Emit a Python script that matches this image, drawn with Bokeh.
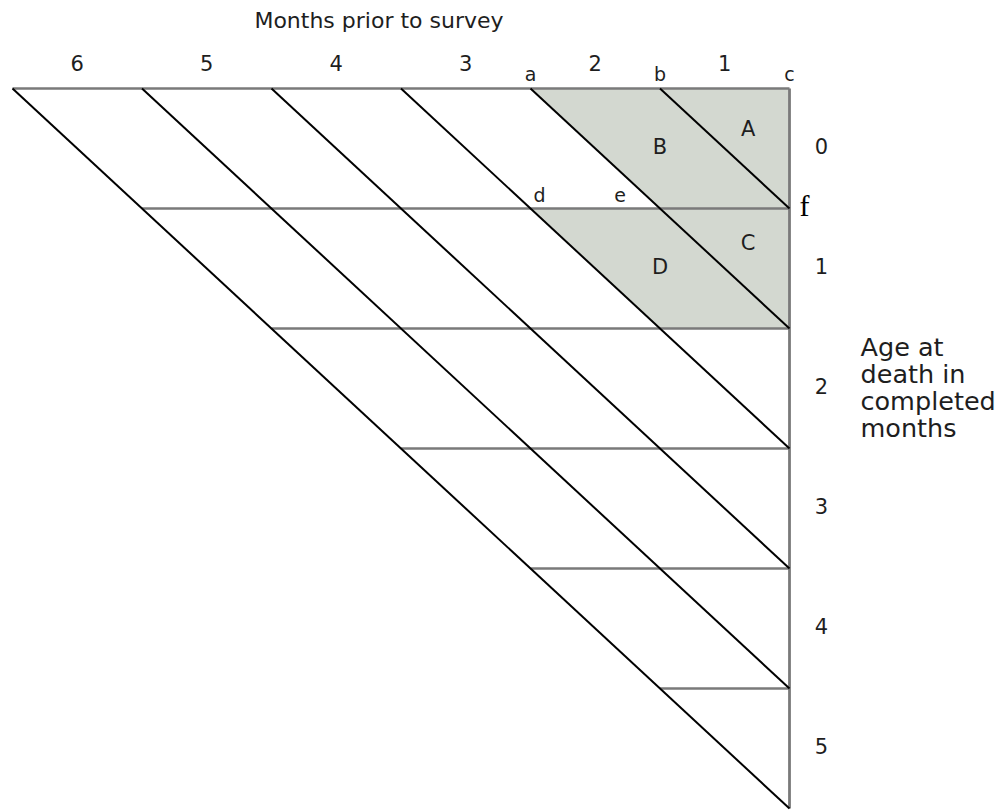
from bokeh.plotting import figure
from bokeh.models import Range1d
from bokeh.core.properties import value
from bokeh.embed import file_html
from bokeh.resources import INLINE

# ---- data ----
months = [6, 5, 4, 3, 2, 1]            # months prior to survey (column labels)
ages = [0, 1, 2, 3, 4, 5]              # age at death in completed months (row labels)
n = 6
corner_top_labels = ["a", "b", "c"]
corner_top_months = [2, 1, 0]
corner_mid_labels = ["d", "e"]
corner_mid_months = [2, 1]
corner_mid_age = 1
shade_months = [2, 0, 0, 1, 2, 1]      # shaded region outline (months prior)
shade_ages = [0, 0, 2, 2, 1, 1]        # shaded region outline (age)
region_labels = ["A", "B", "C", "D"]
region_months = [0.32, 1.0, 0.32, 1.0]
region_ages = [0.34, 0.49, 1.29, 1.49]
title = "Months prior to survey"
age_title = "Age at\ndeath in\ncompleted\nmonths"

FONT = value("DejaVu Sans")

W, H = 998, 810
px_x, px_y = 129.5, 120.0
x0 = -n - 12 / px_x
y0 = -88 / px_y

p = figure(width=W, height=H, output_backend="svg", toolbar_location=None,
           x_range=Range1d(x0, x0 + W / px_x),
           y_range=Range1d(y0 + H / px_y, y0),
           min_border=0, outline_line_color=None, background_fill_color="white")
p.xaxis.visible = False
p.yaxis.visible = False
p.grid.visible = False

# shaded region
p.patch([-m for m in shade_months], shade_ages, fill_color="#d3d8d0", line_color=None)

# horizontal lines (top edge and each age boundary), vertical right edge
hx0 = [-(n - k) for k in range(n)]
hx1 = [0] * n
hy = [k for k in range(n)]
GREY = "#7a7a7a"
p.segment(x0=hx0, y0=hy, x1=hx1, y1=hy, line_color=GREY, line_width=2.6)
p.segment(x0=[0], y0=[0], x1=[0], y1=[n], line_color=GREY, line_width=2.8)

# diagonals (cohort lines)
dx0 = [-(j) for j in range(1, n + 1)]
dy1 = [j for j in range(1, n + 1)]
p.segment(x0=dx0, y0=[0] * n, x1=[0] * n, y1=dy1, line_color="black", line_width=2)

TXT = "#1e1e1e"
# title
p.text(x=[-3.17], y=[-0.5], text=[title], y_offset=-8, text_font=FONT,
       text_font_size="22px", text_align="center", text_baseline="alphabetic",
       text_color=TXT)

# month labels
p.text(x=[-(m - 0.5) for m in months], y=[-0.142] * n, text=[str(m) for m in months],
       y_offset=-8, text_font=FONT, text_font_size="21px", text_align="center",
       text_baseline="alphabetic", text_color=TXT)

# a b c
p.text(x=[-m for m in corner_top_months], y=[-0.058] * 3, text=corner_top_labels,
       y_offset=-8, text_font=FONT, text_font_size="19px", text_align="center",
       text_baseline="alphabetic", text_color=TXT)
# d e
p.text(x=[-corner_mid_months[0]], y=[corner_mid_age], text=[corner_mid_labels[0]],
       x_offset=9, y_offset=-14, text_font=FONT, text_font_size="19px",
       text_align="center", text_baseline="alphabetic", text_color=TXT)
p.text(x=[-corner_mid_months[1]], y=[corner_mid_age], text=[corner_mid_labels[1]],
       x_offset=-40, y_offset=-14, text_font=FONT, text_font_size="19px",
       text_align="center", text_baseline="alphabetic", text_color=TXT)
# f
p.text(x=[0], y=[1], text=["f"], x_offset=10, y_offset=-3,
       text_font=value("Liberation Serif"), text_font_size="30px",
       text_align="left", text_baseline="middle", text_color="black")

# region labels
p.text(x=[-m for m in region_months], y=region_ages, text=region_labels,
       text_font=FONT, text_font_size="21px", text_align="center",
       text_baseline="middle", text_color=TXT)

# age labels
p.text(x=[0] * n, y=[a + 0.5 for a in ages], text=[str(a) for a in ages], x_offset=32,
       y_offset=-3, text_font=FONT, text_font_size="21px", text_align="center",
       text_baseline="middle", text_color=TXT)

# age title
p.text(x=[0], y=[2], text=[age_title], x_offset=71, y_offset=3,
       text_font=FONT, text_font_size="25.5px", text_align="left",
       text_baseline="top", text_line_height=0.9, text_color=TXT)

open("out.html", "w").write(file_html(p, INLINE))
